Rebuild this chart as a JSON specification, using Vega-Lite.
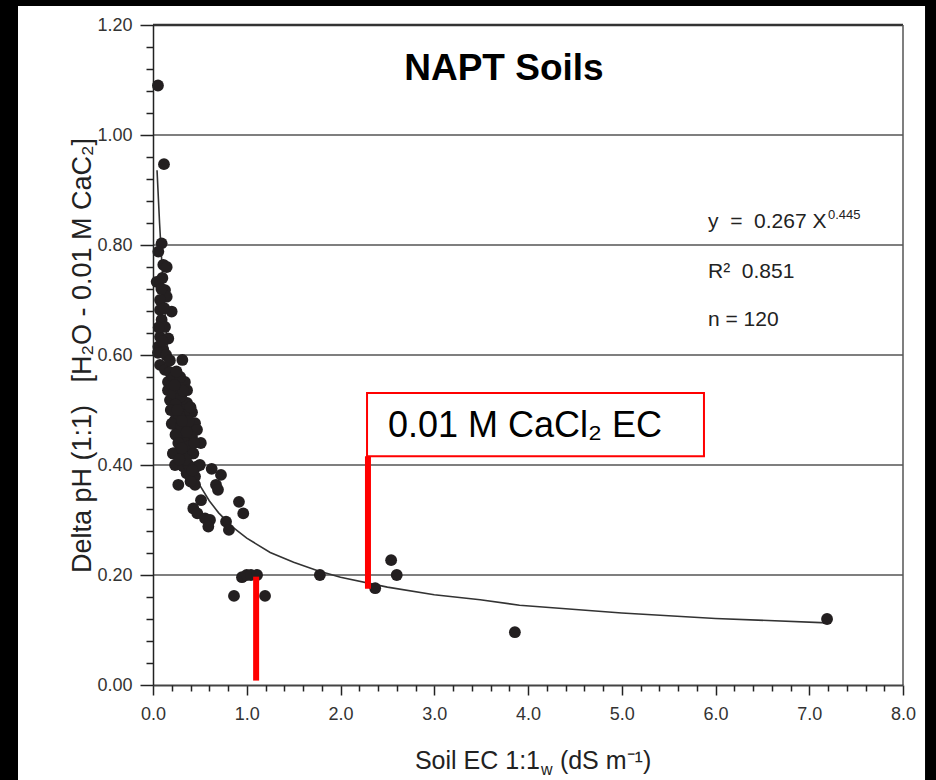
{
  "$schema": "https://vega.github.io/schema/vega-lite/v6.json",
  "width": 750,
  "height": 660,
  "autosize": {"type": "none"},
  "padding": {"left": 153, "top": 25, "right": 33, "bottom": 95},
  "background": "black",
  "config": {"view": {"stroke": null}, "font": "Liberation Sans"},
  "datasets": {
    "pts": [
      {"ec": 0.053, "dph": 1.09}, {"ec": 0.117, "dph": 0.947}, {"ec": 0.092, "dph": 0.803}, {"ec": 0.057, "dph": 0.788},
      {"ec": 0.11, "dph": 0.764}, {"ec": 0.146, "dph": 0.76}, {"ec": 0.039, "dph": 0.733}, {"ec": 0.128, "dph": 0.718},
      {"ec": 0.146, "dph": 0.706}, {"ec": 0.075, "dph": 0.70}, {"ec": 0.199, "dph": 0.679}, {"ec": 0.075, "dph": 0.682},
      {"ec": 0.092, "dph": 0.664}, {"ec": 0.128, "dph": 0.651}, {"ec": 0.075, "dph": 0.633}, {"ec": 0.163, "dph": 0.63},
      {"ec": 0.057, "dph": 0.615}, {"ec": 0.11, "dph": 0.609}, {"ec": 0.313, "dph": 0.591}, {"ec": 0.053, "dph": 0.604},
      {"ec": 0.075, "dph": 0.582}, {"ec": 0.128, "dph": 0.573}, {"ec": 0.18, "dph": 0.569}, {"ec": 0.10, "dph": 0.74},
      {"ec": 0.06, "dph": 0.65}, {"ec": 0.10, "dph": 0.625}, {"ec": 0.14, "dph": 0.60},
      {"ec": 0.16, "dph": 0.551}, {"ec": 0.256, "dph": 0.551}, {"ec": 0.34, "dph": 0.551}, {"ec": 0.16, "dph": 0.536},
      {"ec": 0.267, "dph": 0.536}, {"ec": 0.363, "dph": 0.536}, {"ec": 0.181, "dph": 0.518}, {"ec": 0.267, "dph": 0.518},
      {"ec": 0.363, "dph": 0.513}, {"ec": 0.213, "dph": 0.50}, {"ec": 0.309, "dph": 0.50}, {"ec": 0.416, "dph": 0.496},
      {"ec": 0.235, "dph": 0.482}, {"ec": 0.341, "dph": 0.478}, {"ec": 0.448, "dph": 0.476}, {"ec": 0.267, "dph": 0.464},
      {"ec": 0.373, "dph": 0.464}, {"ec": 0.469, "dph": 0.464}, {"ec": 0.309, "dph": 0.451}, {"ec": 0.416, "dph": 0.451},
      {"ec": 0.51, "dph": 0.44}, {"ec": 0.213, "dph": 0.421}, {"ec": 0.416, "dph": 0.421}, {"ec": 0.20, "dph": 0.545},
      {"ec": 0.22, "dph": 0.53}, {"ec": 0.30, "dph": 0.525}, {"ec": 0.24, "dph": 0.51}, {"ec": 0.33, "dph": 0.49},
      {"ec": 0.28, "dph": 0.49}, {"ec": 0.20, "dph": 0.475}, {"ec": 0.30, "dph": 0.47}, {"ec": 0.38, "dph": 0.48},
      {"ec": 0.24, "dph": 0.455}, {"ec": 0.35, "dph": 0.44}, {"ec": 0.27, "dph": 0.44}, {"ec": 0.39, "dph": 0.435},
      {"ec": 0.30, "dph": 0.425}, {"ec": 0.22, "dph": 0.56}, {"ec": 0.29, "dph": 0.56}, {"ec": 0.32, "dph": 0.535},
      {"ec": 0.25, "dph": 0.57}, {"ec": 0.19, "dph": 0.50}, {"ec": 0.40, "dph": 0.505},
      {"ec": 0.626, "dph": 0.393}, {"ec": 0.725, "dph": 0.382}, {"ec": 0.672, "dph": 0.364}, {"ec": 0.693, "dph": 0.355},
      {"ec": 0.917, "dph": 0.333}, {"ec": 0.963, "dph": 0.312}, {"ec": 0.779, "dph": 0.297}, {"ec": 0.81, "dph": 0.282},
      {"ec": 0.512, "dph": 0.336}, {"ec": 0.43, "dph": 0.321}, {"ec": 0.473, "dph": 0.312}, {"ec": 0.555, "dph": 0.303},
      {"ec": 0.608, "dph": 0.30}, {"ec": 0.59, "dph": 0.288}, {"ec": 0.27, "dph": 0.364}, {"ec": 0.217, "dph": 0.421},
      {"ec": 0.306, "dph": 0.43}, {"ec": 0.43, "dph": 0.421}, {"ec": 0.235, "dph": 0.40}, {"ec": 0.466, "dph": 0.397},
      {"ec": 0.359, "dph": 0.385}, {"ec": 0.448, "dph": 0.379}, {"ec": 0.448, "dph": 0.364}, {"ec": 0.323, "dph": 0.397},
      {"ec": 0.38, "dph": 0.40}, {"ec": 0.40, "dph": 0.37}, {"ec": 0.35, "dph": 0.41}, {"ec": 0.28, "dph": 0.41},
      {"ec": 0.50, "dph": 0.40}, {"ec": 0.42, "dph": 0.39},
      {"ec": 0.864, "dph": 0.162}, {"ec": 0.949, "dph": 0.196}, {"ec": 1.0, "dph": 0.20}, {"ec": 1.045, "dph": 0.20},
      {"ec": 1.11, "dph": 0.20}, {"ec": 1.195, "dph": 0.162}, {"ec": 1.78, "dph": 0.20}, {"ec": 2.37, "dph": 0.176},
      {"ec": 2.54, "dph": 0.227}, {"ec": 2.60, "dph": 0.20}, {"ec": 3.86, "dph": 0.096}, {"ec": 7.19, "dph": 0.12},
      {"ec": 0.18, "dph": 0.59}, {"ec": 0.23, "dph": 0.545}, {"ec": 0.26, "dph": 0.50}, {"ec": 0.31, "dph": 0.48},
      {"ec": 0.12, "dph": 0.685}, {"ec": 0.09, "dph": 0.72}, {"ec": 0.36, "dph": 0.46}, {"ec": 0.44, "dph": 0.44}
    ],
    "fit": [
      {"ec": 0.043, "dph": 0.936}, {"ec": 0.07, "dph": 0.84}, {"ec": 0.1, "dph": 0.75}, {"ec": 0.15, "dph": 0.621},
      {"ec": 0.2, "dph": 0.547}, {"ec": 0.3, "dph": 0.456}, {"ec": 0.4, "dph": 0.401}, {"ec": 0.5, "dph": 0.363},
      {"ec": 0.6, "dph": 0.335}, {"ec": 0.7, "dph": 0.313}, {"ec": 0.85, "dph": 0.287}, {"ec": 1.0, "dph": 0.267},
      {"ec": 1.25, "dph": 0.241}, {"ec": 1.5, "dph": 0.223}, {"ec": 1.75, "dph": 0.208}, {"ec": 2.0, "dph": 0.196},
      {"ec": 2.5, "dph": 0.178}, {"ec": 3.0, "dph": 0.164}, {"ec": 3.49, "dph": 0.155}, {"ec": 3.91, "dph": 0.145},
      {"ec": 5.0, "dph": 0.131}, {"ec": 6.0, "dph": 0.121}, {"ec": 7.19, "dph": 0.113}
    ],
    "grid": [{"g": 0.2}, {"g": 0.4}, {"g": 0.6}, {"g": 0.8}, {"g": 1.0}],
    "redlines": [{"ec": 1.1, "lo": 0.008, "hi": 0.197}, {"ec": 2.293, "lo": 0.175, "hi": 0.416}],
    "redbox": [{"ec": 2.283, "ec2": 5.877, "lo": 0.416, "hi": 0.531}],
    "notes": [
      {"ec": 2.68, "dph": 1.10, "text": "NAPT Soils", "role": "title"},
      {"ec": 2.507, "dph": 0.4515, "text": "0.01 M CaCl₂ EC", "role": "box"},
      {"ec": 5.92, "dph": 0.8315, "text": "y\u00a0\u00a0=\u00a0\u00a00.267 X", "role": "eq"},
      {"ec": 7.2, "dph": 0.8467, "text": "0.445", "role": "sup"},
      {"ec": 5.92, "dph": 0.7405, "text": "R²\u00a0\u00a00.851", "role": "eq"},
      {"ec": 5.92, "dph": 0.6527, "text": "n = 120", "role": "eq"},
      {"ec": 4.128, "dph": -0.1527, "text": "Soil EC 1:1", "role": "xt"},
      {"ec": 4.139, "dph": -0.1636, "text": "w", "role": "xsub"},
      {"ec": 4.34, "dph": -0.1527, "text": "(dS m⁻¹)", "role": "xt2"}
    ]
  },
  "resolve": {"axis": {"x": "independent", "y": "independent"}},
  "layer": [
    {
      "data": {"values": [{}]},
      "mark": {"type": "rect", "fill": "white", "clip": false},
      "encoding": {
        "x": {"datum": -1.44, "type": "quantitative", "scale": {"domain": [0, 8], "nice": false, "zero": false}, "axis": null},
        "x2": {"datum": 8.235},
        "y": {"datum": 1.2345, "type": "quantitative", "scale": {"domain": [0, 1.2], "nice": false, "zero": false}, "axis": null},
        "y2": {"datum": -0.175}
      }
    },
    {
      "data": {"name": "grid"},
      "mark": {"type": "rule", "color": "#555", "strokeWidth": 1.5},
      "encoding": {
        "y": {"field": "g", "type": "quantitative", "scale": {"domain": [0, 1.2], "nice": false, "zero": false}, "axis": null}
      }
    },
    {
      "data": {"values": [{"g": 1.2}]},
      "mark": {"type": "rule", "color": "#333", "strokeWidth": 2.5},
      "encoding": {
        "y": {"field": "g", "type": "quantitative", "scale": {"domain": [0, 1.2], "nice": false, "zero": false}, "axis": null}
      }
    },
    {
      "data": {"values": [{"v": 8}]},
      "mark": {"type": "rule", "color": "#555", "strokeWidth": 1.5},
      "encoding": {
        "x": {"field": "v", "type": "quantitative", "scale": {"domain": [0, 8], "nice": false, "zero": false}, "axis": null}
      }
    },
    {
      "data": {"name": "fit"},
      "mark": {"type": "line", "color": "#333", "strokeWidth": 1.6},
      "encoding": {
        "x": {"field": "ec", "type": "quantitative", "scale": {"domain": [0, 8], "nice": false, "zero": false}, "axis": null},
        "y": {"field": "dph", "type": "quantitative", "scale": {"domain": [0, 1.2], "nice": false, "zero": false}, "axis": null}
      }
    },
    {
      "data": {"name": "pts"},
      "mark": {"type": "circle", "size": 140, "color": "#231f20", "opacity": 1},
      "encoding": {
        "x": {"field": "ec", "type": "quantitative", "scale": {"domain": [0, 8], "nice": false, "zero": false},
          "axis": {"orient": "bottom", "values": [0, 1, 2, 3, 4, 5, 6, 7, 8], "format": ".1f", "grid": false, "tickSize": 10, "tickWidth": 1.5, "tickColor": "#222", "domainColor": "#444", "domainWidth": 2, "labelFont": "Liberation Sans", "labelFontSize": 18, "labelColor": "#333", "labelPadding": 10, "labelFlush": false, "labelOverlap": false, "title": null, "zindex": 1}},
        "y": {"field": "dph", "type": "quantitative", "scale": {"domain": [0, 1.2], "nice": false, "zero": false},
          "axis": {"orient": "left", "values": [0, 0.2, 0.4, 0.6, 0.8, 1.0, 1.2], "format": ".2f", "grid": false, "tickSize": 13, "tickWidth": 1.5, "tickColor": "#222", "domainColor": "#222", "domainWidth": 1.5, "labelFont": "Liberation Sans", "labelFontSize": 18, "labelColor": "#333", "labelPadding": 8, "labelOverlap": false, "title": "Delta pH (1:1)\u00a0\u00a0\u00a0[H₂O - 0.01 M CaC₂]", "titleFont": "Liberation Sans", "titleFontSize": 27, "titleFontWeight": "normal", "titleColor": "#222", "titlePadding": 0, "zindex": 1}}
      }
    },
    {
      "data": {"name": "pts"},
      "mark": {"type": "circle", "opacity": 0},
      "encoding": {
        "x": {"field": "ec", "type": "quantitative", "scale": {"domain": [0, 8], "nice": false, "zero": false},
          "axis": {"orient": "bottom", "values": [0.2, 0.4, 0.6, 0.8, 1.2, 1.4, 1.6, 1.8, 2.2, 2.4, 2.6, 2.8, 3.2, 3.4, 3.6, 3.8, 4.2, 4.4, 4.6, 4.8, 5.2, 5.4, 5.6, 5.8, 6.2, 6.4, 6.6, 6.8, 7.2, 7.4, 7.6, 7.8], "labels": false, "domain": false, "grid": false, "tickSize": 6, "tickWidth": 1.5, "tickColor": "#222", "title": null, "zindex": 1}},
        "y": {"field": "dph", "type": "quantitative", "scale": {"domain": [0, 1.2], "nice": false, "zero": false},
          "axis": {"orient": "left", "values": [0.04, 0.08, 0.12, 0.16, 0.24, 0.28, 0.32, 0.36, 0.44, 0.48, 0.52, 0.56, 0.64, 0.68, 0.72, 0.76, 0.84, 0.88, 0.92, 0.96, 1.04, 1.08, 1.12, 1.16], "labels": false, "domain": false, "grid": false, "tickSize": 7, "tickWidth": 1.5, "tickColor": "#222", "title": null, "zindex": 1}}
      }
    },
    {
      "data": {"name": "redlines"},
      "mark": {"type": "rule", "color": "#ff0000", "strokeWidth": 6},
      "encoding": {
        "x": {"field": "ec", "type": "quantitative", "scale": {"domain": [0, 8], "nice": false, "zero": false}, "axis": null},
        "y": {"field": "lo", "type": "quantitative", "scale": {"domain": [0, 1.2], "nice": false, "zero": false}, "axis": null},
        "y2": {"field": "hi"}
      }
    },
    {
      "data": {"name": "redbox"},
      "mark": {"type": "rect", "fill": "white", "stroke": "#ff0000", "strokeWidth": 2},
      "encoding": {
        "x": {"field": "ec", "type": "quantitative", "scale": {"domain": [0, 8], "nice": false, "zero": false}, "axis": null},
        "x2": {"field": "ec2"},
        "y": {"field": "lo", "type": "quantitative", "scale": {"domain": [0, 1.2], "nice": false, "zero": false}, "axis": null},
        "y2": {"field": "hi"}
      }
    },
    {
      "data": {"name": "notes"},
      "transform": [{"filter": "datum.role === 'title'"}],
      "mark": {"type": "text", "align": "left", "baseline": "alphabetic", "font": "Liberation Sans", "fontSize": 37, "fontWeight": "bold", "color": "black"},
      "encoding": {
        "x": {"field": "ec", "type": "quantitative", "scale": {"domain": [0, 8], "nice": false, "zero": false}, "axis": null},
        "y": {"field": "dph", "type": "quantitative", "scale": {"domain": [0, 1.2], "nice": false, "zero": false}, "axis": null},
        "text": {"field": "text"}
      }
    },
    {
      "data": {"name": "notes"},
      "transform": [{"filter": "datum.role === 'box'"}],
      "mark": {"type": "text", "align": "left", "baseline": "alphabetic", "font": "Liberation Sans", "fontSize": 36, "color": "black"},
      "encoding": {
        "x": {"field": "ec", "type": "quantitative", "scale": {"domain": [0, 8], "nice": false, "zero": false}, "axis": null},
        "y": {"field": "dph", "type": "quantitative", "scale": {"domain": [0, 1.2], "nice": false, "zero": false}, "axis": null},
        "text": {"field": "text"}
      }
    },
    {
      "data": {"name": "notes"},
      "transform": [{"filter": "datum.role === 'eq'"}],
      "mark": {"type": "text", "align": "left", "baseline": "alphabetic", "font": "Liberation Sans", "fontSize": 21, "color": "#222"},
      "encoding": {
        "x": {"field": "ec", "type": "quantitative", "scale": {"domain": [0, 8], "nice": false, "zero": false}, "axis": null},
        "y": {"field": "dph", "type": "quantitative", "scale": {"domain": [0, 1.2], "nice": false, "zero": false}, "axis": null},
        "text": {"field": "text"}
      }
    },
    {
      "data": {"name": "notes"},
      "transform": [{"filter": "datum.role === 'sup'"}],
      "mark": {"type": "text", "align": "left", "baseline": "alphabetic", "font": "Liberation Sans", "fontSize": 13, "color": "#222"},
      "encoding": {
        "x": {"field": "ec", "type": "quantitative", "scale": {"domain": [0, 8], "nice": false, "zero": false}, "axis": null},
        "y": {"field": "dph", "type": "quantitative", "scale": {"domain": [0, 1.2], "nice": false, "zero": false}, "axis": null},
        "text": {"field": "text"}
      }
    },
    {
      "data": {"name": "notes"},
      "transform": [{"filter": "datum.role === 'xt'"}],
      "mark": {"type": "text", "align": "right", "baseline": "alphabetic", "font": "Liberation Sans", "fontSize": 25, "color": "#222"},
      "encoding": {
        "x": {"field": "ec", "type": "quantitative", "scale": {"domain": [0, 8], "nice": false, "zero": false}, "axis": null},
        "y": {"field": "dph", "type": "quantitative", "scale": {"domain": [0, 1.2], "nice": false, "zero": false}, "axis": null},
        "text": {"field": "text"}
      }
    },
    {
      "data": {"name": "notes"},
      "transform": [{"filter": "datum.role === 'xsub'"}],
      "mark": {"type": "text", "align": "left", "baseline": "alphabetic", "font": "Liberation Sans", "fontSize": 16, "color": "#222"},
      "encoding": {
        "x": {"field": "ec", "type": "quantitative", "scale": {"domain": [0, 8], "nice": false, "zero": false}, "axis": null},
        "y": {"field": "dph", "type": "quantitative", "scale": {"domain": [0, 1.2], "nice": false, "zero": false}, "axis": null},
        "text": {"field": "text"}
      }
    },
    {
      "data": {"name": "notes"},
      "transform": [{"filter": "datum.role === 'xt2'"}],
      "mark": {"type": "text", "align": "left", "baseline": "alphabetic", "font": "Liberation Sans", "fontSize": 25, "color": "#222"},
      "encoding": {
        "x": {"field": "ec", "type": "quantitative", "scale": {"domain": [0, 8], "nice": false, "zero": false}, "axis": null},
        "y": {"field": "dph", "type": "quantitative", "scale": {"domain": [0, 1.2], "nice": false, "zero": false}, "axis": null},
        "text": {"field": "text"}
      }
    }
  ]
}
